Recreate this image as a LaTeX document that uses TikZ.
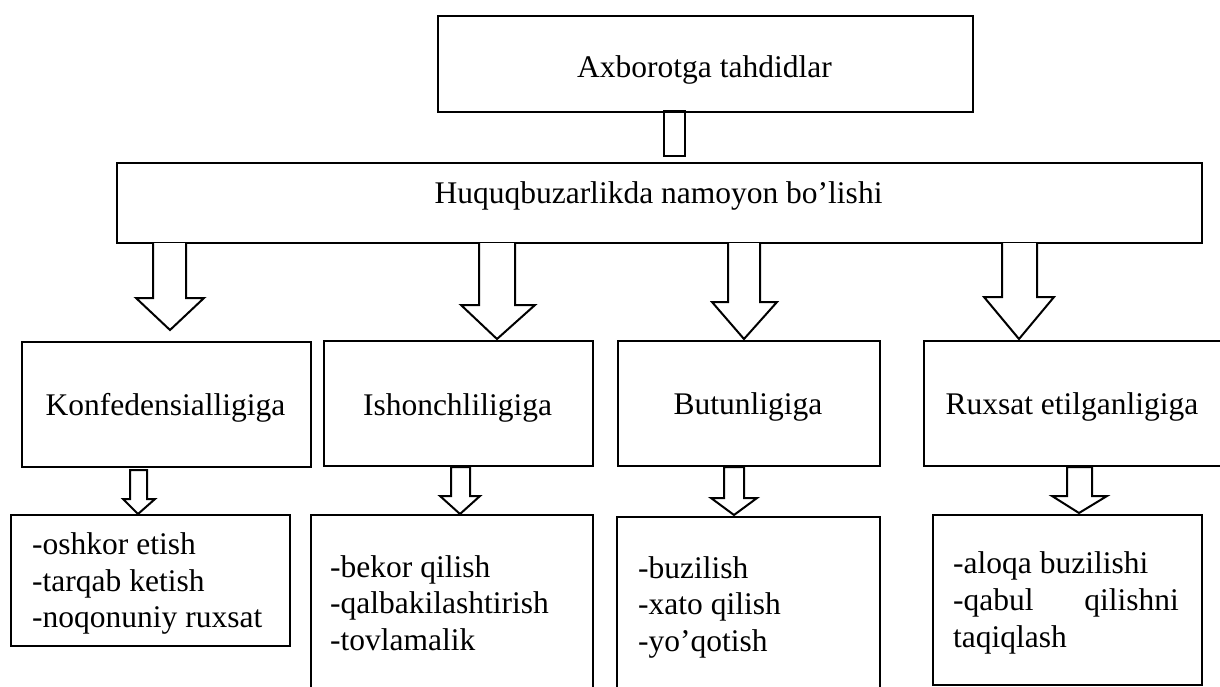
\documentclass[tikz,border=0pt]{standalone}
\usepackage{fontspec}
\setmainfont{Liberation Serif}
\begin{document}
\begin{tikzpicture}[x=1pt,y=-1pt,
  box/.style={draw,line width=2pt,inner sep=0pt,anchor=north west},
  lbl/.style={inner sep=0pt,font=\fontsize{31.5}{36}\selectfont},
  barrow/.style={draw,fill=white,line width=2pt,line join=miter}]
\useasboundingbox (0,0) rectangle (1220,686);
\clip (0,0) rectangle (1220,686);
% top boxes
\node[box,minimum width=535pt,minimum height=96pt] (top) at (437,15) {};
\node[lbl,anchor=base] (toptxt) at (704.5,77) {Axborotga tahdidlar};
\node[box,minimum width=1085pt,minimum height=80pt] (huq) at (116,162) {};
\node[lbl,anchor=base] (huqtxt) at (658.5,203) {Huquqbuzarlikda namoyon bo’lishi};
\coordinate (linkA) at (664,111);
\coordinate (linkB) at (685,156);
\draw[line width=2pt] (linkA) rectangle (linkB);
% second row
\node[box,minimum width=289pt,minimum height=125pt] (konf) at (21,341) {};
\node[lbl,anchor=base] (konftxt) at (165.5,415) {Konfedensialligiga};
\node[box,minimum width=269pt,minimum height=125pt] (ishon) at (323,340) {};
\node[lbl,anchor=base] (ishontxt) at (457.5,415) {Ishonchliligiga};
\node[box,minimum width=262pt,minimum height=125pt] (butun) at (617,340) {};
\node[lbl,anchor=base] (butuntxt) at (748,414) {Butunligiga};
\node[box,minimum width=310pt,minimum height=125pt] (ruxsat) at (923,340) {};
\node[lbl,anchor=base] (ruxsattxt) at (1072,414) {Ruxsat etilganligiga};
% third row
\node[box,minimum width=279pt,minimum height=131pt] (oshkor) at (10,514) {};
\node[lbl,anchor=base west] (o1) at (32,554) {-oshkor etish};
\node[lbl,anchor=base west] (o2) at (32,591) {-tarqab ketish};
\node[lbl,anchor=base west] (o3) at (32,627) {-noqonuniy ruxsat};
\node[box,minimum width=282pt,minimum height=200pt] (bekor) at (310,514) {};
\node[lbl,anchor=base west] (b1) at (330,577) {-bekor qilish};
\node[lbl,anchor=base west] (b2) at (330,613) {-qalbakilashtirish};
\node[lbl,anchor=base west] (b3) at (330,650) {-tovlamalik};
\node[box,minimum width=263pt,minimum height=200pt] (buz) at (616,516) {};
\node[lbl,anchor=base west] (z1) at (638,578) {-buzilish};
\node[lbl,anchor=base west] (z2) at (638,614) {-xato qilish};
\node[lbl,anchor=base west] (z3) at (638,651) {-yo’qotish};
\node[box,minimum width=269pt,minimum height=170pt] (aloqa) at (932,514) {};
\node[lbl,anchor=base west] (a1) at (953,573) {-aloqa buzilishi};
\node[lbl,anchor=base west] (a2) at (953,610) {-qabul};
\node[lbl,anchor=base east] (a2b) at (1179,610) {qilishni};
\node[lbl,anchor=base west] (a3) at (953,647) {taqiqlash};
% big block arrows
\draw[barrow] (153,243) -- (153,298) -- (136,298) -- (170,330) -- (204,298) -- (186,298) -- (186,243);
\draw[barrow] (479,243) -- (479,305) -- (461,305) -- (497,339) -- (535,305) -- (515,305) -- (515,243);
\draw[barrow] (728,243) -- (728,302) -- (712,302) -- (744,339) -- (777,302) -- (760,302) -- (760,243);
\draw[barrow] (1002,243) -- (1002,297) -- (984,297) -- (1019,339) -- (1054,297) -- (1037,297) -- (1037,243);
% small block arrows
\draw[barrow] (130,470) -- (130,499) -- (123,499) -- (138,514) -- (155,499) -- (147,499) -- (147,470) -- cycle;
\draw[barrow] (451,467) -- (451,496) -- (440,496) -- (460,514) -- (480,496) -- (470,496) -- (470,467) -- cycle;
\draw[barrow] (724,467) -- (724,498) -- (711,498) -- (734,515) -- (757,498) -- (744,498) -- (744,467) -- cycle;
\draw[barrow] (1067,467) -- (1067,496) -- (1052,496) -- (1079,513) -- (1107,496) -- (1092,496) -- (1092,467) -- cycle;
\end{tikzpicture}
\end{document}
